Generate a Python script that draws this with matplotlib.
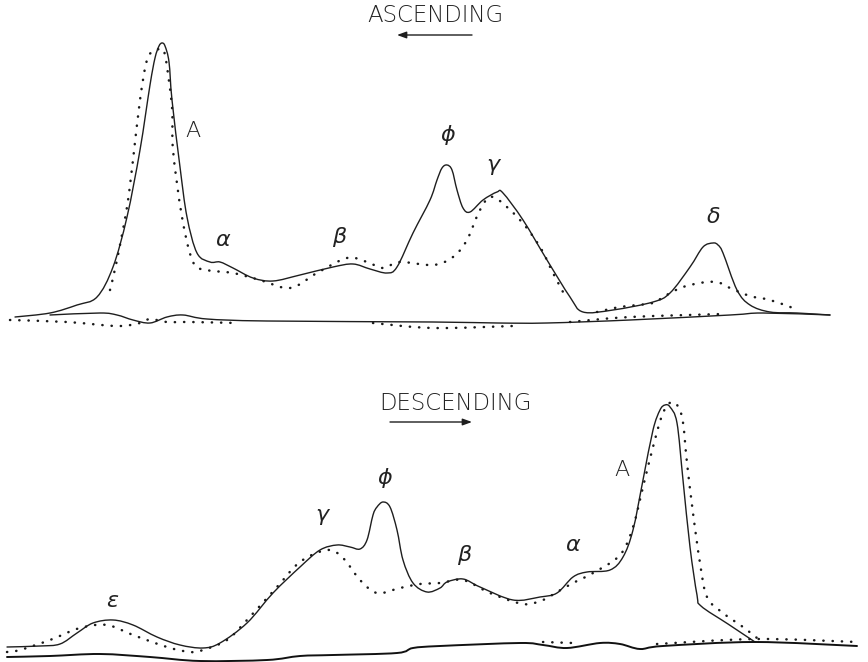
import matplotlib
matplotlib.use("Agg")
import matplotlib.pyplot as plt
from matplotlib.path import Path
from matplotlib.patches import PathPatch

# ---------------- data (image pixel coordinates) -------------
# Ascending pattern (top)
asc_solid_x = [15, 50, 77, 97, 113, 127, 140, 150, 155, 159, 162, 165, 169, 172, 180, 187, 197, 210, 220,
               233, 253, 273, 300, 333, 353, 370, 387, 397, 413, 430, 437, 442, 447, 452, 457, 463, 470,
               483, 497, 503, 523, 547, 570, 583, 613, 653, 670, 690, 703, 713, 718, 723, 737, 750,
               770, 797, 830]
asc_solid_y = [317, 313, 305, 297, 267, 217, 150, 85, 58, 46, 43, 46, 62, 100, 167, 217, 253, 262, 262,
               268, 278, 281, 275, 267, 264, 269, 273, 267, 233, 200, 180, 168, 165, 170, 190, 208, 212,
               200, 192, 193, 220, 260, 297, 312, 310, 302, 293, 267, 247, 243, 245, 253, 290, 305,
               312, 313, 315]

asc_dot_x = [110, 117, 127, 133, 140, 147, 155, 160, 165, 172, 173, 182, 193, 207, 233, 260, 290,
             317, 347, 367, 383, 400, 433, 453, 467, 480, 493, 520, 540, 553, 563]
asc_dot_y = [290, 260, 207, 160, 100, 60, 50, 50, 55, 107, 150, 217, 262, 270, 273, 280, 288,
             273, 258, 262, 268, 262, 265, 257, 240, 210, 197, 220, 247, 273, 292]
asc_dot2_x = [597, 620, 653, 663, 683, 707, 720, 730, 750, 770, 793]
asc_dot2_y = [312, 307, 303, 297, 287, 282, 283, 288, 296, 300, 308]

asc_base_x = [50, 100, 117, 133, 150, 167, 183, 207, 267, 433, 497, 547, 630, 730, 763, 830]
asc_base_y = [315, 313, 315, 320, 323, 317, 315, 319, 321, 322, 323, 323, 320, 315, 313, 315]

asc_bdot1_x = [10, 67, 117, 140, 150, 167, 190, 237]
asc_bdot1_y = [320, 322, 326, 323, 319, 322, 322, 323]
asc_bdot2_x = [373, 433, 513]
asc_bdot2_y = [323, 328, 326]
asc_bdot3_x = [570, 630, 723]
asc_bdot3_y = [322, 317, 314]

# Descending pattern (bottom)
desc_solid_x = [7, 40, 60, 77, 93, 113, 133, 157, 180, 203, 220, 247, 273, 300, 320, 337, 350, 360,
                367, 373, 377, 383, 390, 397, 403, 413, 427, 440, 447, 463, 480, 513, 540, 557, 573,
                587, 610, 623, 633, 643, 653, 660, 665, 670, 677, 683, 690, 697, 701, 728, 755]
desc_solid_y = [647, 646, 644, 633, 623, 620, 625, 637, 645, 648, 643, 623, 593, 567, 550, 545, 547, 549,
                540, 515, 507, 502, 507, 530, 560, 583, 592, 588, 582, 579, 587, 600, 597, 593, 577,
                572, 570, 557, 530, 480, 430, 410, 405, 407, 423, 480, 547, 595, 606, 624, 642]

desc_dot_x = [7, 20, 50, 80, 107, 133, 167, 190, 203, 227, 247, 277, 300, 327, 343, 360, 377, 400,
              420, 440, 463, 490, 523, 543, 557, 573, 593, 620, 633, 643, 653, 663, 673, 682, 687,
              693, 700, 707, 723, 743, 757]
desc_dot_y = [652, 650, 640, 628, 625, 635, 647, 652, 650, 640, 620, 587, 562, 550, 558, 580, 593, 588,
              584, 583, 580, 593, 604, 600, 592, 583, 573, 555, 527, 487, 447, 413, 402, 417, 463,
              513, 563, 597, 613, 627, 638]

desc_base_x = [7, 50, 100, 150, 200, 267, 300, 333, 397, 413, 440, 520, 543, 567, 600, 620, 640, 663,
               755, 857]
desc_base_y = [657, 656, 654, 657, 661, 660, 656, 655, 653, 648, 646, 643, 645, 648, 643, 644, 649, 646,
               642, 646]

desc_bdot1_x = [543, 573]
desc_bdot1_y = [642, 643]
desc_bdot2_x = [657, 757, 857]
desc_bdot2_y = [644, 639, 642]

# labels: (text, x, y)
label_text = ["A", r"$\alpha$", r"$\beta$", r"$\phi$", r"$\gamma$", r"$\delta$",
              r"$\gamma$", r"$\phi$", r"$\beta$", r"$\alpha$", "A", r"$\epsilon$"]
label_x = [193, 223, 340, 448, 494, 713, 323, 385, 465, 573, 622, 113]
label_y = [131, 240, 237, 135, 167, 217, 517, 478, 555, 545, 470, 601]

titles = ["ASCENDING", "DESCENDING"]
title_x = [435, 455]
title_y = [15, 404]
arrow_start_x = [472, 390]
arrow_end_x = [397, 472]
arrow_y = [35, 422]


# ---------------- drawing -------------
def smooth_path(xs, ys):
    """Catmull-Rom curve through the given points, drawn as cubic Bezier segments."""
    pts = list(zip(xs, ys))
    verts = [pts[0]]
    codes = [Path.MOVETO]
    n = len(pts)
    for i in range(n - 1):
        p0 = pts[i - 1] if i > 0 else pts[i]
        p1 = pts[i]
        p2 = pts[i + 1]
        p3 = pts[i + 2] if i + 2 < n else pts[i + 1]
        c1 = (p1[0] + (p2[0] - p0[0]) / 6.0, p1[1] + (p2[1] - p0[1]) / 6.0)
        c2 = (p2[0] - (p3[0] - p1[0]) / 6.0, p2[1] - (p3[1] - p1[1]) / 6.0)
        verts += [c1, c2, p2]
        codes += [Path.CURVE4] * 3
    return Path(verts, codes)


fig = plt.figure(figsize=(8.68, 6.62), dpi=100)
ax = fig.add_axes([0, 0, 1, 1])
ax.set_xlim(0, 868)
ax.set_ylim(662, 0)
ax.axis("off")

solid_kw = dict(facecolor="none", edgecolor="#1e1e1e", lw=1.0, joinstyle="round", capstyle="round")
dot_kw = dict(facecolor="none", edgecolor="#1a1a1a", lw=1.8, linestyle=(0, (0.1, 3.6)),
              capstyle="round")


def draw(xs, ys, **kw):
    ax.add_patch(PathPatch(smooth_path(xs, ys), **kw))


draw(asc_solid_x, asc_solid_y, **solid_kw)
draw(asc_base_x, asc_base_y, **solid_kw)
for xs, ys in [(asc_dot_x, asc_dot_y), (asc_dot2_x, asc_dot2_y), (asc_bdot1_x, asc_bdot1_y),
               (asc_bdot2_x, asc_bdot2_y), (asc_bdot3_x, asc_bdot3_y)]:
    draw(xs, ys, **dot_kw)

draw(desc_solid_x, desc_solid_y, **solid_kw)
draw(desc_base_x, desc_base_y, facecolor="none", edgecolor="#111111", lw=1.4, joinstyle="round",
     capstyle="round")
for xs, ys in [(desc_dot_x, desc_dot_y), (desc_bdot1_x, desc_bdot1_y), (desc_bdot2_x, desc_bdot2_y)]:
    draw(xs, ys, **dot_kw)

for t, x, y in zip(label_text, label_x, label_y):
    ax.text(x, y, t, fontsize=16, ha="center", va="center", color="#222222",
            family="DejaVu Sans", fontweight="light")

for t, x, y in zip(titles, title_x, title_y):
    ax.text(x, y, t, fontsize=16.5, ha="center", va="center", color="#222222",
            family="DejaVu Sans", fontweight="light")

for xs, xe, y in zip(arrow_start_x, arrow_end_x, arrow_y):
    ax.annotate("", xy=(xe, y), xytext=(xs, y),
                arrowprops=dict(arrowstyle="-|>,head_length=0.55,head_width=0.2",
                                color="#1e1e1e", lw=1.0, shrinkA=0, shrinkB=0))

fig.savefig("out.png", dpi=100, facecolor="white")
